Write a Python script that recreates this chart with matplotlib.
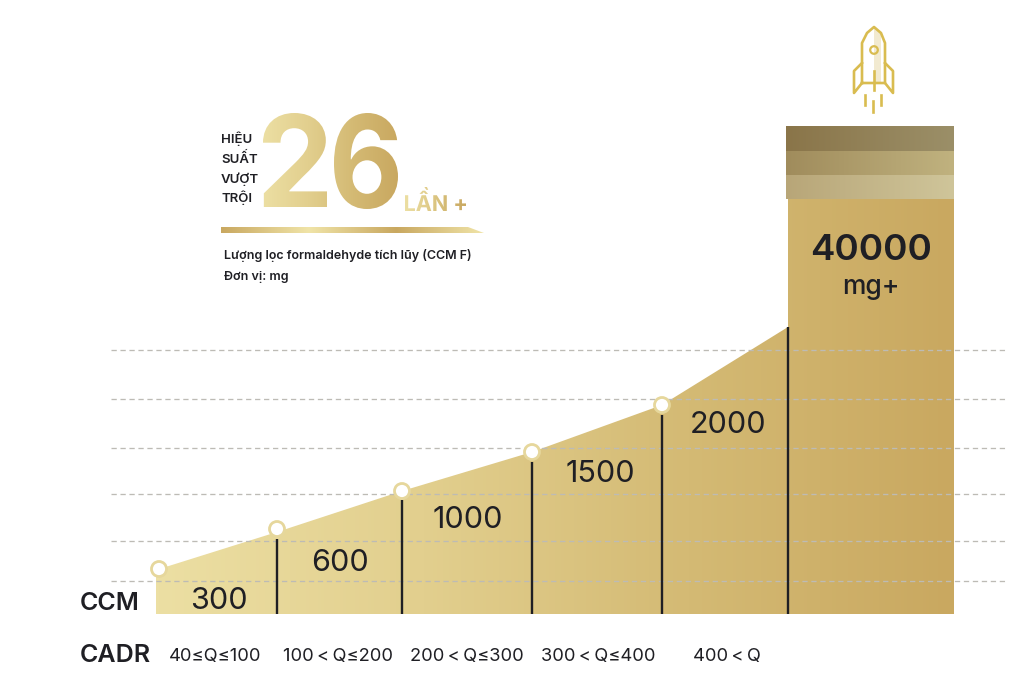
import numpy as np
import matplotlib
matplotlib.use('Agg')
import matplotlib.pyplot as plt
from matplotlib.colors import LinearSegmentedColormap
from matplotlib.font_manager import FontProperties
from matplotlib.patches import Polygon, PathPatch, Circle
from matplotlib.textpath import TextPath
from matplotlib.transforms import Affine2D

# values
ccm_labels = ['300', '600', '1000', '1500', '2000']
cadr_labels = ['40≤Q≤100', '100\u2009<\u2009Q≤200', '200\u2009<\u2009Q≤300', '300\u2009<\u2009Q≤400', '400\u2009<\u2009Q']
area_x = [156, 277, 402, 532, 662, 788]
area_h = [44, 82, 123, 162, 209, 287]
divider_h = [75, 114, 152, 199, 287]
marker_x = [159, 277, 402, 532, 662]
marker_h = [45, 85, 123, 162, 209]
bar_left, bar_right, bar_h = 788, 954, 488
grid_h = [33, 73, 120, 166, 215, 264]

BASE = 614  # pixel row of the baseline


def py(row):
    return BASE - row


plt.rcParams['font.family'] = ['Inter', 'DejaVu Sans']
fig = plt.figure(figsize=(10.24, 6.86), dpi=100, facecolor='white')
ax = fig.add_axes([0, 0, 1, 1])
ax.set_xlim(0, 1024)
ax.set_ylim(py(686), py(0))
ax.axis('off')

gold = LinearSegmentedColormap.from_list('gold', ['#ecdfa3', '#e2cf8e', '#d4ba74', '#c9a860'])
ramp = np.linspace(0, 1, 256).reshape(1, -1)
ink = '#1f1f24'


def fill_gradient(patch, x0, x1, y0, y1, cmap=gold, z=1):
    ax.add_patch(patch)
    patch.set_facecolor('none')
    patch.set_edgecolor('none')
    im = ax.imshow(ramp, cmap=cmap, extent=[x0, x1, y0, y1], aspect='auto', zorder=z)
    im.set_clip_path(patch)


def gradient_text(s, box, prop, grad, cmap=gold):
    x0, x1, y0, y1 = box
    tp = TextPath((0, 0), s, size=100, prop=prop)
    b = tp.get_extents()
    tr = Affine2D().translate(-b.x0, -b.y0).scale((x1 - x0) / b.width, (y1 - y0) / b.height).translate(x0, y0)
    fill_gradient(PathPatch(tr.transform_path(tp)), grad[0], grad[1], y0, y1, cmap, z=3)


# area and column
shape = list(zip(area_x, area_h)) + [(bar_left, bar_h), (bar_right, bar_h), (bar_right, 0), (area_x[0], 0)]
fill_gradient(Polygon(shape, closed=True), area_x[0], bar_right, 0, bar_h)

# dark stripes on the column top
stripes = [(126, 151, '#8a7549', '#9b8f68'), (151, 175, '#a08c5c', '#c0b27f'), (175, 199, '#b8a678', '#cfc59a')]
for top, bottom, c0, c1 in stripes:
    cm = LinearSegmentedColormap.from_list('s', [c0, c1])
    ax.imshow(ramp, cmap=cm, extent=[bar_left - 2, bar_right, py(bottom), py(top)], aspect='auto', zorder=2)

# dashed guide lines
for h in grid_h:
    ax.plot([111, 1005], [h, h], color='#bdbbb5', lw=0.95, ls=(0, (4, 2.8)), zorder=2)

# dividers
for x, h in zip(area_x[1:], divider_h):
    ax.plot([x, x], [0, h], color=ink, lw=1.7, zorder=4, solid_capstyle='butt')

# markers
for x, h in zip(marker_x, marker_h):
    ax.add_patch(Circle((x, h), 7.5, facecolor='white', edgecolor='#e6d79c', lw=2, zorder=5))

# value labels
label_x = [219, 340, 468, 600, 728]
label_row = [601, 563, 520, 474, 425]
for s, x, r in zip(ccm_labels, label_x, label_row):
    ax.text(x, py(r), s, fontsize=22, color=ink, ha='center', va='center', zorder=6)
ax.text(871, py(251), '40000', fontsize=26.5, fontweight='semibold', color=ink, ha='center', va='center', zorder=6)
ax.text(871, py(287), 'mg+', fontsize=19, fontweight='medium', color=ink, ha='center', va='center', zorder=6)

# row headers and CADR ranges
ax.text(80, py(603), 'CCM', fontsize=18, fontweight='semibold', color=ink, ha='left', va='center', zorder=6)
ax.text(80, py(656), 'CADR', fontsize=18, fontweight='semibold', color=ink, ha='left', va='center', zorder=6)
cadr_x = [215, 338, 467, 598, 727]
for s, x in zip(cadr_labels, cadr_x):
    ax.text(x, py(657), s, fontsize=13.2, color=ink, ha='center', va='center', zorder=6)

# headline block
for s, r in zip(['HIỆU', 'SUẤT', 'VƯỢT', 'TRỘI'], [139, 159, 179, 198]):
    ax.text(221, py(r), s, fontsize=9.5, fontweight='semibold', color=ink, ha='left', va='center')
bold = FontProperties(family='Inter', weight='bold')
gradient_text('2', (263, 327, py(207), py(113)), bold, (263, 398))
gradient_text('6', (334, 398, py(209), py(113)), bold, (263, 398))
gradient_text('LẦN +', (405, 466, py(211), py(187)), bold, (405, 466))
rule_cmap = LinearSegmentedColormap.from_list('rule', ['#c9a860', '#f0e4a8', '#c9a860', '#f0e4a8'])
fill_gradient(Polygon([(221, py(227)), (468, py(227)), (484, py(233)), (221, py(233))], closed=True),
              221, 484, py(233), py(227), rule_cmap, z=3)
ax.text(224, py(256), 'Lượng lọc formaldehyde tích lũy (CCM F)', fontsize=9, fontweight='semibold', color=ink, ha='left', va='center')
ax.text(224, py(277), 'Đơn vị: mg', fontsize=9, fontweight='semibold', color=ink, ha='left', va='center')

# rocket icon
rk = '#d9bc50'
ax.add_patch(Polygon([(874, py(27)), (881, py(33)), (881, py(83)), (874, py(83))], closed=True, facecolor='#f2ead0', edgecolor='none'))
rocket_lines = [
    [(862, 83), (862, 43), (867, 33), (874, 27), (881, 33), (885, 43), (885, 83), (862, 83)],
    [(862, 63), (854, 71), (854, 93), (862, 83)],
    [(885, 63), (893, 71), (893, 93), (885, 83)],
    [(874, 71), (874, 90)],
    [(865, 95), (865, 105)],
    [(873, 101), (873, 112)],
    [(881, 95), (881, 105)],
]
for seg in rocket_lines:
    xs, rows = zip(*seg)
    ax.plot(xs, [py(r) for r in rows], color=rk, lw=1.9, solid_joinstyle='round')
ax.add_patch(Circle((874, py(50)), 3.8, facecolor='none', edgecolor=rk, lw=1.6))

ax.set_xlim(0, 1024)
ax.set_ylim(py(686), py(0))
fig.savefig('out.png', dpi=100, facecolor='white')
